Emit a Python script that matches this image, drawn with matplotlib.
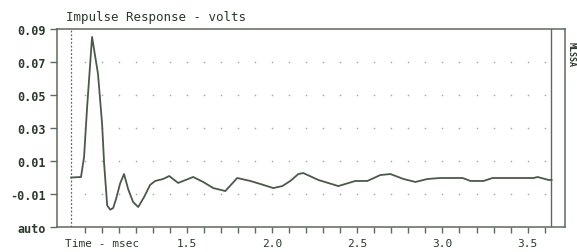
import numpy as np
import matplotlib
matplotlib.use("Agg")
import matplotlib.pyplot as plt

# Impulse response trace (time in msec, volts)
time_ms = [0.818, 0.876, 0.894, 0.912, 0.941, 0.976, 1.000, 1.012, 1.030, 1.048, 1.065,
           1.082, 1.106, 1.129, 1.153, 1.182, 1.212, 1.247, 1.282, 1.312, 1.359,
           1.394, 1.447, 1.535, 1.594, 1.653, 1.724, 1.794, 1.871, 1.929, 2.006,
           2.059, 2.106, 2.153, 2.182, 2.271, 2.388, 2.488, 2.559, 2.635, 2.694,
           2.771, 2.841, 2.912, 2.988, 3.118, 3.165, 3.241, 3.294, 3.535, 3.559,
           3.624, 3.641]
volts = [0.0000, 0.0003, 0.0124, 0.0427, 0.0852, 0.0627, 0.0324, 0.0082, -0.0170, -0.0195, -0.0185,
         -0.0130, -0.0036, 0.0021, -0.0070, -0.0148, -0.0179, -0.0118, -0.0045, -0.0021, -0.0009,
         0.0009, -0.0033, 0.0003, -0.0027, -0.0064, -0.0082, -0.0003, -0.0021, -0.0039, -0.0064,
         -0.0052, -0.0021, 0.0021, 0.0027, -0.0015, -0.0052, -0.0021, -0.0021, 0.0015, 0.0021,
         -0.0009, -0.0027, -0.0009, -0.0003, -0.0003, -0.0021, -0.0021, -0.0003, -0.0003, 0.0003,
         -0.0015, -0.0015]

y_ticks = [0.09, 0.07, 0.05, 0.03, 0.01, -0.01, -0.03]
y_labels = ["0.09", "0.07", "0.05", "0.03", "0.01", "-0.01", "auto"]
x_ticks = [1.0, 1.5, 2.0, 2.5, 3.0, 3.5]
x_labels = ["Time - msec", "1.5", "2.0", "2.5", "3.0", "3.5"]
x_minor = np.round(np.arange(0.9, 3.65, 0.1), 2)

ink = "#2c382c"
frame = "#5d6b5d"
trace = "#4a5a4a"

plt.rcParams["font.family"] = ["DejaVu Sans Mono"]

fig = plt.figure(figsize=(5.77, 2.53), dpi=100)
ax = fig.add_axes([57 / 577, 1 - 228 / 253, 508 / 577, 198 / 253])

ax.set_xlim(0.735, 3.72)
ax.set_ylim(-0.03, 0.09)

# dotted grid points at tick intersections
gx, gy = np.meshgrid(x_minor, [0.07, 0.05, 0.03, 0.01, -0.01])
ax.plot(gx.ravel(), gy.ravel(), ls="none", marker="o", ms=1.2, color="#a3aea3", mew=0)

ax.axvline(0.818, color=frame, lw=0.9, ls=(0, (1.5, 1.5)))
ax.axvline(3.64, color=frame, lw=1.0)

ax.plot(time_ms, volts, color=trace, lw=1.3)

for s in ax.spines.values():
    s.set_color(frame)
    s.set_linewidth(1.1)

ax.set_yticks(y_ticks)
ax.set_yticklabels(y_labels, fontsize=8.5, fontweight="bold", color=ink)
ax.set_xticks(x_minor, minor=True)
ax.set_xticks(x_ticks)
ax.set_xticklabels(x_labels, fontsize=8, color=ink)
ax.tick_params(axis="y", length=5, width=1, color=frame, pad=3)
ax.tick_params(axis="x", which="both", length=4, width=1, color=frame, pad=4)

fig.text(66 / 577, 1 - 18 / 253, "Impulse Response - volts", fontsize=9,
         color=ink, va="center", ha="left")
fig.text(571 / 577, 1 - 55 / 253, "MLSSA", fontsize=6, fontweight="bold",
         color=ink, va="center", ha="center", rotation=-90)

fig.savefig("out.png", dpi=100, facecolor="white")
